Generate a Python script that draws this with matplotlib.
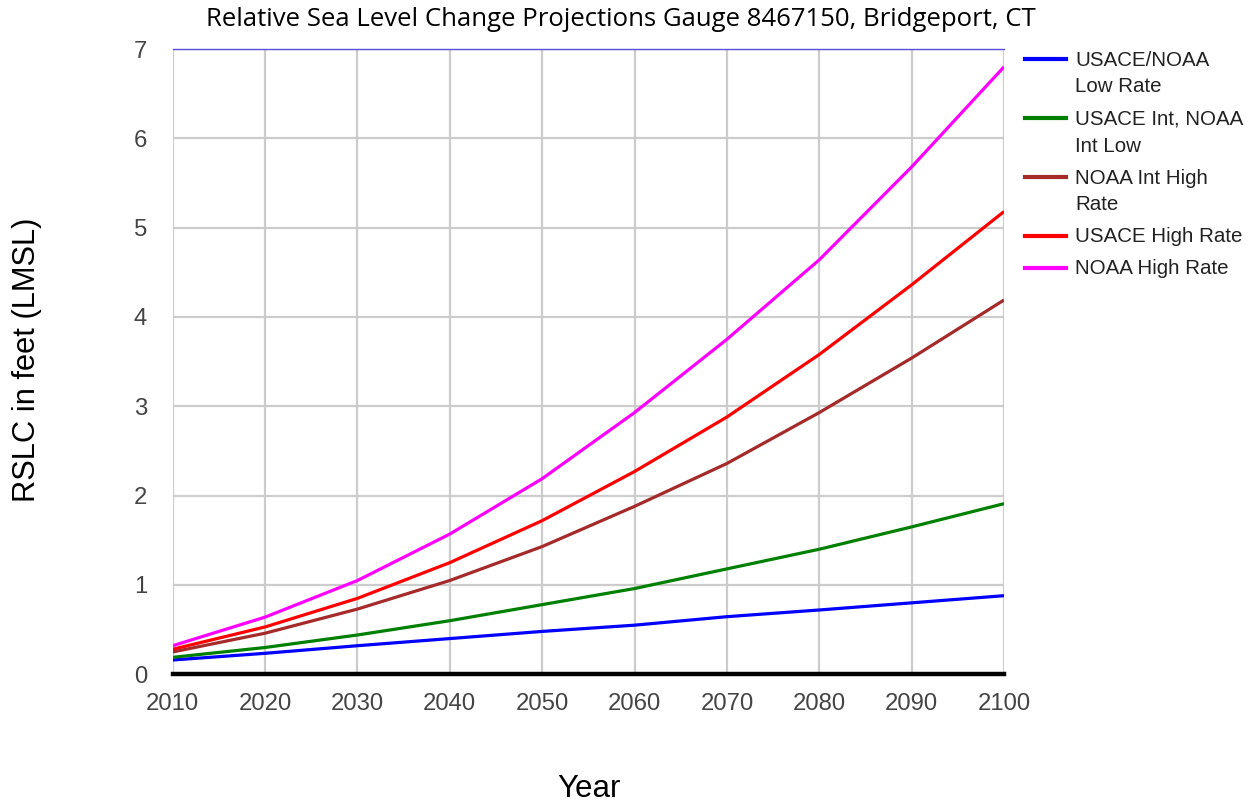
import matplotlib
matplotlib.use("Agg")
import matplotlib.pyplot as plt
from matplotlib.lines import Line2D

years = [2010, 2020, 2030, 2040, 2050, 2060, 2070, 2080, 2090, 2100]
low_rate = [0.16, 0.235, 0.32, 0.40, 0.48, 0.55, 0.645, 0.72, 0.80, 0.88]
int_low = [0.19, 0.30, 0.44, 0.60, 0.78, 0.96, 1.18, 1.40, 1.65, 1.91]
int_high = [0.25, 0.46, 0.73, 1.05, 1.43, 1.88, 2.36, 2.93, 3.54, 4.19]
usace_high = [0.28, 0.53, 0.85, 1.25, 1.72, 2.27, 2.88, 3.58, 4.36, 5.18]
noaa_high = [0.32, 0.64, 1.05, 1.57, 2.19, 2.93, 3.75, 4.64, 5.68, 6.80]

series_labels = ["USACE/NOAA\nLow Rate", "USACE Int, NOAA\nInt Low",
                 "NOAA Int High\nRate", "USACE High Rate", "NOAA High Rate"]
series_values = [low_rate, int_low, int_high, usace_high, noaa_high]
series_colors = ["#0000ff", "#008000", "#a52a2a", "#ff0000", "#ff00ff"]

y_ticks = [0, 1, 2, 3, 4, 5, 6, 7]

W, H = 1253, 806
fig = plt.figure(figsize=(W / 100, H / 100), dpi=100)
left, right, top, bottom = 172.7, 1004, 49, 674.3
ax = fig.add_axes([left / W, 1 - bottom / H, (right - left) / W, (bottom - top) / H])

ax.set_xlim(2010, 2100)
ax.set_ylim(0, 7)
ax.set_xticks(years)
ax.set_yticks(y_ticks)
ax.grid(True, color="#cccccc", linewidth=1.6)
ax.set_axisbelow(True)
for s in ax.spines.values():
    s.set_visible(False)
ax.tick_params(length=0, labelsize=17.2, colors="#444444", labelfontfamily="Liberation Sans")
ax.tick_params(axis="x", pad=13.5)
ax.tick_params(axis="y", pad=18.5)

for vals, col in zip(series_values, series_colors):
    ax.plot(years, vals, color=col, linewidth=2.3, solid_capstyle="butt", zorder=3)

ax.axhline(0, color="black", linewidth=3.2, zorder=4, clip_on=False)
ax.axhline(7, color="#5a4fd8", linewidth=1.0, zorder=4, clip_on=False)

fig.text(621 / W, 1 - 20 / H, "Relative Sea Level Change Projections Gauge 8467150, Bridgeport, CT",
         ha="center", va="center", fontsize=18.5, family="Open Sans", color="black")
fig.text(589 / W, 1 - 789 / H, "Year", ha="center", va="center", fontsize=22.5,
         family="Liberation Sans", color="black")
fig.text(27.5 / W, 1 - 359.5 / H, "RSLC in feet (LMSL)", ha="center", va="center", fontsize=22.2,
         family="Liberation Sans", color="black", rotation=90)

# legend
entry_y = [59, 118, 177, 236, 268]
for lab, col, yy in zip(series_labels, series_colors, entry_y):
    fig.add_artist(Line2D([1025 / W, 1066 / W], [1 - yy / H, 1 - yy / H], color=col,
                          linewidth=3, transform=fig.transFigure))
    lines = lab.split("\n")
    for i, ln in enumerate(lines):
        fig.text(1075 / W, 1 - (yy + 1 + i * 27) / H, ln, ha="left", va="center", fontsize=14.8,
                 family="Liberation Sans", color="#222222")

fig.savefig("out.png", dpi=100)
